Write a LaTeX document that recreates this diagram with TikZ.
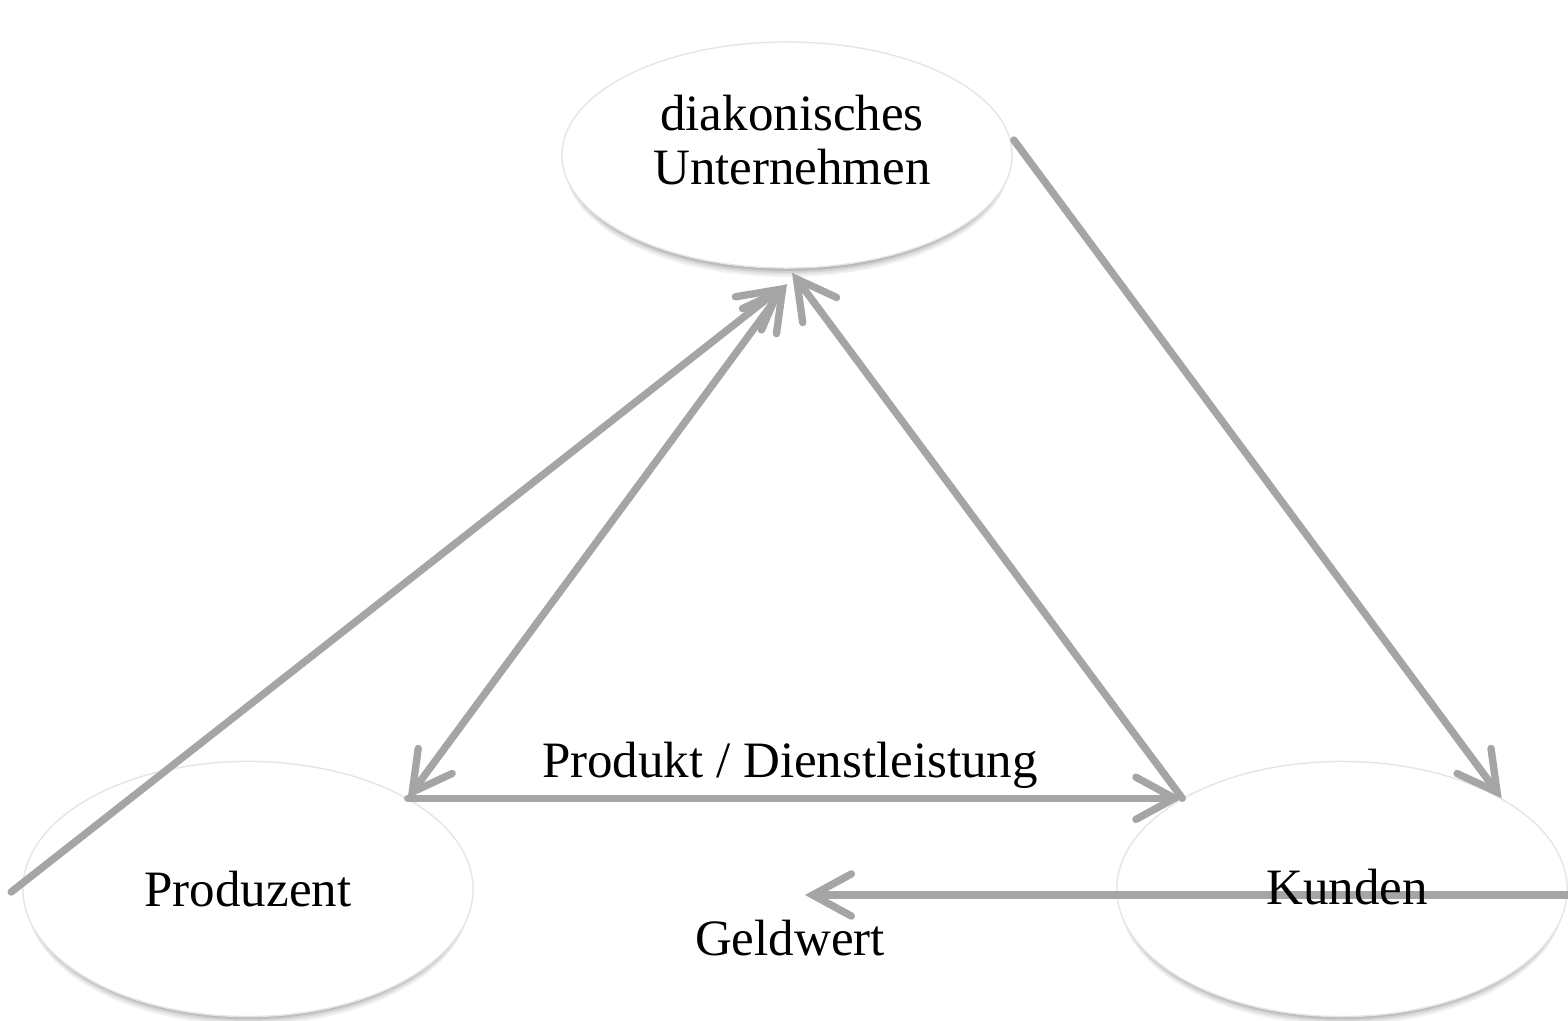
\documentclass[tikz,border=0pt]{standalone}
\usepackage{fontspec}
\setmainfont{Liberation Serif}
\usetikzlibrary{arrows.meta,shapes.geometric,calc}
\definecolor{linegray}{RGB}{165,165,165}
\pgfdeclareradialshading{ellshade}{\pgfpoint{0bp}{0bp}}{color(0bp)=(white); color(34bp)=(white); color(44bp)=(black!5); color(48bp)=(black!13); color(50bp)=(black!24)}
\begin{document}
\begin{tikzpicture}[x=0.01cm,y=-0.01cm,
  ell/.style={ellipse, minimum width=4.5cm, inner sep=0pt, shading=ellshade, draw=black!10, line width=0.4pt},
  txt/.style={font=\fontsize{14.5}{15.6}\selectfont, align=center, inner sep=0pt},
  tipA/.tip={Straight Barb[length=11pt,width=12pt,line cap=round]},
  conn/.style={draw=linegray, line width=2.1pt, line cap=round}]
\useasboundingbox (0,0) rectangle (1568,1021);
% soft shadows below the ellipses
\foreach \cx/\cy/\ry in {787/155/113, 248/889/127, 1342/889/127}{
  \foreach \o/\a in {10/0.05, 8/0.06, 6/0.08, 4/0.11, 2/0.14}{
    \fill[black, opacity=\a] (\cx,\cy+\o) ellipse [x radius=222, y radius=\ry-1];
  }
}
% ellipses
\node[ell, minimum height=2.26cm] (U) at (787,155) {};
\node[ell, minimum height=2.55cm] (P) at (248,889) {};
\node[ell, minimum height=2.55cm] (K) at (1342,889) {};
% free ends
\coordinate (gR) at (1568,895);
\coordinate (gL) at (805,895);
% connectors
\draw[conn, -tipA] ($(P.west)+(-11,3)$) -- ($(U.south)+(-2,16)$);
\draw[conn, tipA-tipA] (P.north east) -- ($(U.south)+(0,15)$);
\draw[conn, -tipA] (K.north west) -- ($(U.south)+(5,4)$);
\draw[conn, -tipA] (P.north east) -- (K.north west);
\draw[conn, -tipA] ($(U.east)+(1,-15)$) -- (K.north east);
\draw[conn, -tipA] (gR) -- (gL);
% texts
\node[txt] (Ut) at (792,140) {diakonisches\\Unternehmen};
\node[txt] (Pt) at (248,889) {Produzent};
\node[txt] (Kt) at (1347,887) {Kunden};
\node[txt, anchor=base] (pd) at (790,777) {Produkt / Dienstleistung};
\node[txt, anchor=base] (gw) at (790,955) {Geldwert};
\end{tikzpicture}
\end{document}
